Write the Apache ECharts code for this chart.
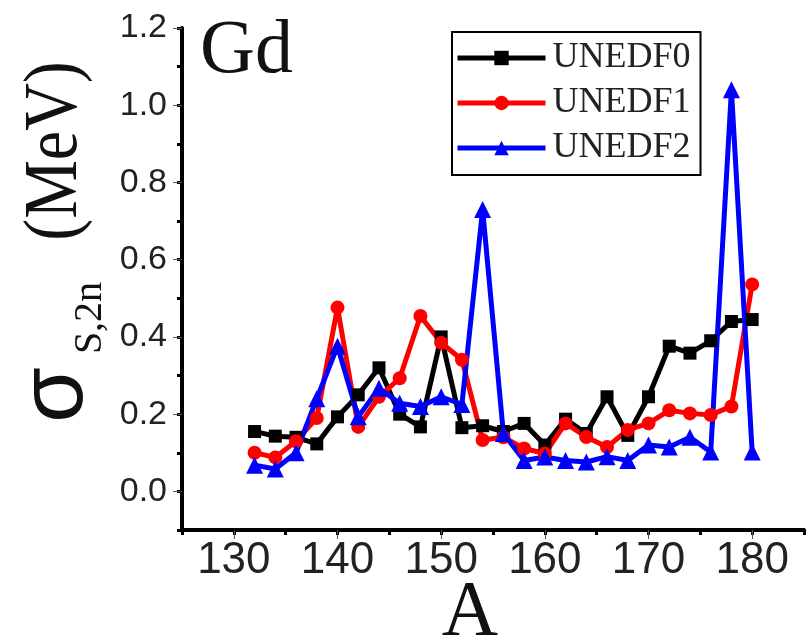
<!DOCTYPE html>
<html>
<head>
<meta charset="utf-8">
<script src="https://cdn.jsdelivr.net/npm/echarts@6/dist/echarts.min.js"></script>
<style>
  html, body { margin: 0; padding: 0; background: #fff; }
  #chart { width: 808px; height: 641px; }
</style>
</head>
<body>
<div id="chart"></div>
<script>
// Mass numbers A of the Gd isotopes
const massNumbers = [132, 134, 136, 138, 140, 142, 144, 146, 148, 150, 152, 154, 156,
                     158, 160, 162, 164, 166, 168, 170, 172, 174, 176, 178, 180];

// sigma_S,2n (MeV) for each functional
const unedf0 = [0.155, 0.143, 0.140, 0.123, 0.193, 0.250, 0.320, 0.200, 0.167, 0.400, 0.165, 0.170, 0.155,
                0.176, 0.120, 0.187, 0.150, 0.245, 0.145, 0.245, 0.376, 0.358, 0.390, 0.440, 0.445];
const unedf1 = [0.100, 0.088, 0.130, 0.190, 0.476, 0.167, 0.245, 0.293, 0.454, 0.385, 0.341, 0.133, 0.140,
                0.111, 0.098, 0.176, 0.141, 0.115, 0.159, 0.176, 0.210, 0.202, 0.198, 0.220, 0.536];
const unedf2 = [0.068, 0.058, 0.100, 0.240, 0.376, 0.193, 0.267, 0.228, 0.220, 0.245, 0.225, 0.730, 0.150,
                0.080, 0.089, 0.080, 0.076, 0.090, 0.080, 0.120, 0.115, 0.140, 0.102, 1.040, 0.102];

const seriesNames = ['UNEDF0', 'UNEDF1', 'UNEDF2'];

// Major tick positions (labelled); minor ticks come from the axis interval
const xMajorTicks = [130, 140, 150, 160, 170, 180];
const yMajorTicks = [0.0, 0.2, 0.4, 0.6, 0.8, 1.0, 1.2];

const X_MIN = 125, X_MAX = 185, X_STEP = 5;
const Y_MIN = -0.1, Y_MAX = 1.2, Y_STEP = 0.1;

const pairs = vals => massNumbers.map((a, i) => [a, vals[i]]);

const chart = echarts.init(document.getElementById('chart'), null, { renderer: 'canvas' });

const axisInk = '#000';
const sans = '"Liberation Sans", Arial, sans-serif';
const serif = '"Liberation Serif", "Times New Roman", serif';

// Overlay axis that only lengthens the ticks at the labelled values
function majorTickAxis(position, min, max, values) {
  return {
    type: 'value', position: position, min: min, max: max,
    axisLine: { show: false, onZero: false },
    axisTick: { show: true, customValues: values, length: 9 },
    axisLabel: { show: false },
    splitLine: { show: false }
  };
}

function lineSeries(name, vals, color, symbol, size) {
  return {
    name: name,
    type: 'line',
    xAxisIndex: 0, yAxisIndex: 0,
    data: pairs(vals),
    symbol: symbol,
    symbolSize: size,
    showSymbol: true,
    lineStyle: { color: color, width: 5 },
    itemStyle: { color: color, borderWidth: 0 },
    emphasis: { disabled: true },
    z: 3
  };
}

const option = {
  animation: false,
  backgroundColor: '#fff',
  grid: { left: 182, right: 4, top: 28, bottom: 111, containLabel: false },
  xAxis: [
    {
      type: 'value', position: 'bottom', min: X_MIN, max: X_MAX, interval: X_STEP,
      axisLine: { show: true, onZero: false, lineStyle: { color: axisInk, width: 4 } },
      axisTick: { show: true, length: 5, lineStyle: { color: axisInk, width: 3 } },
      axisLabel: { margin: 9, color: '#222', fontFamily: sans, fontSize: 44,
                   formatter: v => (xMajorTicks.indexOf(Math.round(v)) >= 0 ? String(Math.round(v)) : '') },
      splitLine: { show: false }
    },
    majorTickAxis('bottom', X_MIN, X_MAX, xMajorTicks)
  ],
  yAxis: [
    {
      type: 'value', position: 'left', min: Y_MIN, max: Y_MAX, interval: Y_STEP,
      axisLine: { show: true, onZero: false, lineStyle: { color: axisInk, width: 4 } },
      axisTick: { show: true, length: 5, lineStyle: { color: axisInk, width: 3 } },
      axisLabel: { margin: 15, color: '#222', fontFamily: sans, fontSize: 34,
                   formatter: v => {
                     const k = Math.round(v * 10);
                     return (k >= 0 && k % 2 === 0) ? (k / 10).toFixed(1) : '';
                   } },
      splitLine: { show: false }
    },
    majorTickAxis('left', Y_MIN, Y_MAX, yMajorTicks)
  ],
  legend: {
    data: seriesNames,
    orient: 'vertical',
    left: 452, top: 32,
    padding: [8, 10, 9, 3],
    itemGap: 9,
    itemWidth: 88,
    itemHeight: 18,
    borderColor: '#000',
    borderWidth: 2,
    borderRadius: 0,
    backgroundColor: '#fff',
    lineStyle: { width: 5 },
    textStyle: { fontFamily: serif, fontSize: 36, lineHeight: 36, color: '#222', padding: [0, 0, 0, 2] }
  },
  series: [
    lineSeries(seriesNames[0], unedf0, '#000000', 'rect', 13),
    lineSeries(seriesNames[1], unedf1, '#ff0000', 'circle', 14),
    lineSeries(seriesNames[2], unedf2, '#0000ff', 'triangle', 17)
  ],
  graphic: [
    { type: 'text', left: 200, top: 14,
      style: { text: 'Gd', fontFamily: serif, fontSize: 76, fill: '#111' } },
    { type: 'text', x: 470, y: 614,
      style: { text: 'A', fontFamily: serif, fontSize: 78, fill: '#111',
               align: 'center', verticalAlign: 'middle' } },
    // rotated y-axis title: sigma with subscript, then (MeV)
    { type: 'text', x: 57, y: 395, rotation: Math.PI / 2,
      style: { text: 'σ', fontFamily: sans, fontSize: 90, fill: '#111',
               align: 'center', verticalAlign: 'middle' } },
    { type: 'text', x: 90, y: 318, rotation: Math.PI / 2,
      style: { text: 'S,2n', fontFamily: serif, fontSize: 40, fill: '#111',
               align: 'center', verticalAlign: 'middle' } },
    { type: 'text', x: 56, y: 151, rotation: Math.PI / 2, scaleY: 1.15,
      style: { text: '(MeV)', fontFamily: serif, fontSize: 66, fill: '#111',
               align: 'center', verticalAlign: 'middle' } }
  ]
};

chart.setOption(option);
</script>
</body>
</html>
